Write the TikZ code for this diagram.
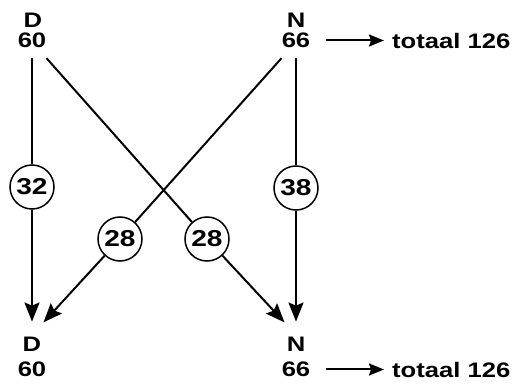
\documentclass[tikz,border=0pt]{standalone}
\usepackage{fontspec}
\setmainfont[FakeStretch=1.22]{Liberation Sans}
\usetikzlibrary{arrows.meta}
\begin{document}
\begin{tikzpicture}[x=1pt,y=-1pt,
    every node/.style={font=\fontsize{21}{22}\selectfont\bfseries},
    val/.style={inner xsep=0pt,inner ysep=10pt},
    lett/.style={inner xsep=0pt,inner ysep=12pt},
    num/.style={circle,draw,line width=1.5pt,minimum size=44pt,inner sep=0pt,
        font=\fontsize{23}{24}\selectfont\bfseries},
    flow/.style={line width=2pt},
    tip/.style={flow,-{Stealth[length=19pt,width=15pt,inset=3pt]},shorten >=3pt},
    hor/.style={flow,-{Stealth[length=15pt,width=12pt,inset=2pt]}},
    tot/.style={anchor=west,inner ysep=0pt,inner xsep=8pt}]
    \useasboundingbox (0,0) rectangle (523,385);

    \node[lett] (topDl) at (33,20.5) {D};
    \node[val] (topD) at (32,40.5) {60};
    \node[lett] (topNl) at (296,20.5) {N};
    \node[val] (topN) at (296,40.5) {66};
    \node[tot] (topTot) at (384,40.5) {totaal 126};

    \node[lett] (botDl) at (32,344) {D};
    \node[val] (botD) at (32,369.5) {60};
    \node[lett] (botNl) at (296,344) {N};
    \node[val] (botN) at (296,369.5) {66};
    \node[tot] (botTot) at (384,369.5) {totaal 126};

    \node[num] (c32) at (32,187) {32};
    \node[num] (c38) at (296,188) {38};
    \node[num] (c28a) at (120,239) {28};
    \node[num] (c28b) at (207,239) {28};

    \draw[flow] (topD.south) -- (c32);
    \draw[tip] (c32) -- (botDl);
    \draw[flow] (topN.south) -- (c38);
    \draw[tip] (c38) -- (botNl);
    \draw[flow] (topD.south east) -- (c28b);
    \draw[tip] (c28b) -- (botNl.north west);
    \draw[flow] (topN.south west) -- (c28a);
    \draw[tip] (c28a) -- (botDl.north east);

    \draw[hor] ([xshift=16pt]topN.east) -- (topTot);
    \draw[hor] ([xshift=16pt]botN.east) -- (botTot);
\end{tikzpicture}
\end{document}
